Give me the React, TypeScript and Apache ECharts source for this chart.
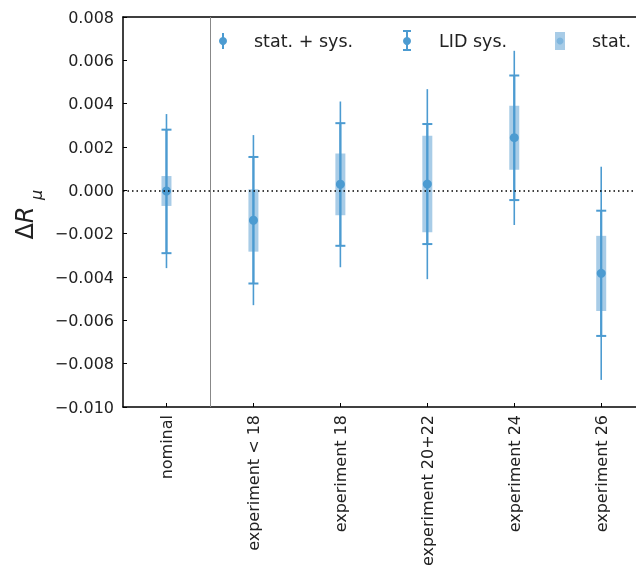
import React, { useEffect, useRef } from "react";
import * as echarts from "echarts";

const categories = ["nominal", "experiment < 18", "experiment 18", "experiment 20+22", "experiment 24", "experiment 26"];
const central = [-0.00003, -0.00138, 0.00028, 0.00029, 0.00243, -0.00383];
const totalLow = [-0.00359, -0.0053, -0.00355, -0.0041, -0.0016, -0.00875];
const totalHigh = [0.00352, 0.00255, 0.0041, 0.00467, 0.00644, 0.00109];
const lidLow = [-0.0029, -0.0043, -0.00256, -0.00248, -0.00045, -0.00672];
const lidHigh = [0.0028, 0.00154, 0.0031, 0.00306, 0.0053, -0.00094];
const statLow = [-0.00072, -0.00283, -0.00115, -0.00194, 0.00095, -0.00557];
const statHigh = [0.00066, 0.00005, 0.0017, 0.00252, 0.0039, -0.0021];
const positions = [0, 1, 2, 3, 4, 5];

const LINE = "#4c9bd1";
const BOX = "#a8cce7";
const FONT = "DejaVu Sans";
const X_MIN = -0.5;
const X_MAX = 5.4;

export default function App() {
  const ref = useRef<HTMLDivElement>(null);
  useEffect(() => {
    if (!ref.current) return;
    const chart = echarts.init(ref.current, null, { renderer: "svg" });

    const statData = positions.map((p, i) => [p, statLow[i], statHigh[i]]);
    const totalData = positions.map((p, i) => [p, totalLow[i], totalHigh[i], central[i]]);
    const lidData = positions.map((p, i) => [p, lidLow[i], lidHigh[i]]);

    const option: any = {
      animation: false,
      grid: { left: 123, top: 17, bottom: 174, right: 0, show: false },
      xAxis: [
        {
          type: "value",
          min: X_MIN,
          max: X_MAX,
          position: "bottom",
          axisLine: { show: true, onZero: false, lineStyle: { color: "#000", width: 1.5 } },
          axisTick: { show: true, inside: true, length: 4, customValues: positions, lineStyle: { color: "#000" } },
          axisLabel: {
            rotate: 90,
            fontSize: 16,
            color: "#222",
            fontFamily: FONT,
            margin: 8,
            customValues: positions,
            formatter: (v: number) => categories[Math.round(v)] ?? "",
          },
          splitLine: { show: false },
        },
        {
          type: "value",
          min: X_MIN,
          max: X_MAX,
          position: "top",
          axisLine: { show: true, onZero: false, lineStyle: { color: "#000", width: 1.5 } },
          axisTick: { show: false },
          axisLabel: { show: false },
          splitLine: { show: false },
        },
      ],
      yAxis: {
        type: "value",
        min: -0.01,
        max: 0.008,
        interval: 0.002,
        axisLine: { show: true, onZero: false, lineStyle: { color: "#000", width: 1.5 } },
        axisTick: { show: true, inside: true, length: 4, lineStyle: { color: "#000" } },
        axisLabel: {
          fontSize: 16,
          color: "#222",
          fontFamily: FONT,
          margin: 9,
          formatter: (v: number) => {
            const s = Math.abs(v).toFixed(3);
            return v < -1e-12 ? "\u2212" + s : s;
          },
        },
        splitLine: { show: false },
      },
      series: [
        {
          name: "stat.",
          type: "custom",
          z: 2,
          data: statData,
          encode: { x: 0, y: [1, 2] },
          markLine: {
            silent: true,
            symbol: "none",
            label: { show: false },
            data: [
              { yAxis: 0, lineStyle: { color: "#000", width: 1.5, type: [1.5, 3] } },
              { xAxis: 0.5, lineStyle: { color: "#888", width: 1, type: "solid" } },
            ],
          },
          renderItem: (params: any, api: any) => {
            const x = api.value(0);
            const lo = api.coord([x, api.value(1)]);
            const hi = api.coord([x, api.value(2)]);
            return {
              type: "rect",
              shape: { x: lo[0] - 5, y: hi[1], width: 10, height: lo[1] - hi[1] },
              style: { fill: BOX },
            };
          },
        },
        {
          name: "stat. + sys.",
          type: "custom",
          z: 3,
          data: totalData,
          encode: { x: 0, y: [1, 2, 3] },
          renderItem: (params: any, api: any) => {
            const x = api.value(0);
            const lo = api.coord([x, api.value(1)]);
            const hi = api.coord([x, api.value(2)]);
            return {
              type: "line",
              shape: { x1: lo[0], y1: lo[1], x2: hi[0], y2: hi[1] },
              style: { stroke: LINE, lineWidth: 1.6 },
            };
          },
        },
        {
          name: "LID sys.",
          type: "custom",
          z: 4,
          data: lidData,
          encode: { x: 0, y: [1, 2] },
          renderItem: (params: any, api: any) => {
            const x = api.value(0);
            const lo = api.coord([x, api.value(1)]);
            const hi = api.coord([x, api.value(2)]);
            const c = api.coord([x, central[params.dataIndex]]);
            return {
              type: "group",
              children: [
                { type: "line", shape: { x1: lo[0], y1: lo[1], x2: hi[0], y2: hi[1] }, style: { stroke: LINE, lineWidth: 2.2 } },
                { type: "line", shape: { x1: lo[0] - 5, y1: lo[1], x2: lo[0] + 5, y2: lo[1] }, style: { stroke: LINE, lineWidth: 2 } },
                { type: "line", shape: { x1: hi[0] - 5, y1: hi[1], x2: hi[0] + 5, y2: hi[1] }, style: { stroke: LINE, lineWidth: 2 } },
                { type: "circle", shape: { cx: c[0], cy: c[1], r: 4.5 }, style: { fill: LINE } },
              ],
            };
          },
        },
      ],
      graphic: [
        {
          type: "text",
          x: 25,
          y: 223,
          rotation: Math.PI / 2,
          style: {
            text: "{d|\u0394}{r|R}",
            align: "center",
            verticalAlign: "middle",
            fill: "#222",
            rich: {
              d: { fontSize: 24, fontFamily: FONT, fill: "#222" },
              r: { fontSize: 24, fontFamily: FONT, fontStyle: "italic", fill: "#222" },
            },
          },
        },
        {
          type: "text",
          x: 36,
          y: 195,
          rotation: Math.PI / 2,
          style: { text: "\u03bc", fontSize: 16, fontStyle: "italic", fontFamily: FONT, fill: "#222", align: "center", verticalAlign: "middle" },
        },
        { type: "line", shape: { x1: 223, y1: 33, x2: 223, y2: 49 }, style: { stroke: LINE, lineWidth: 2 } },
        { type: "circle", shape: { cx: 223, cy: 41, r: 4 }, style: { fill: LINE } },
        { type: "text", x: 254, y: 41, style: { text: "stat. + sys.", fontSize: 17.5, fontFamily: FONT, fill: "#222", verticalAlign: "middle" } },
        { type: "line", shape: { x1: 407, y1: 31, x2: 407, y2: 50 }, style: { stroke: LINE, lineWidth: 2 } },
        { type: "line", shape: { x1: 403, y1: 31, x2: 411, y2: 31 }, style: { stroke: LINE, lineWidth: 2 } },
        { type: "line", shape: { x1: 403, y1: 50, x2: 411, y2: 50 }, style: { stroke: LINE, lineWidth: 2 } },
        { type: "circle", shape: { cx: 407, cy: 41, r: 4 }, style: { fill: LINE } },
        { type: "text", x: 439, y: 41, style: { text: "LID sys.", fontSize: 17.5, fontFamily: FONT, fill: "#222", verticalAlign: "middle" } },
        { type: "rect", shape: { x: 555, y: 32, width: 10, height: 18 }, style: { fill: BOX } },
        { type: "circle", shape: { cx: 560, cy: 41, r: 3.5 }, style: { fill: "#7fb6de" } },
        { type: "text", x: 592, y: 41, style: { text: "stat.", fontSize: 17.5, fontFamily: FONT, fill: "#222", verticalAlign: "middle" } },
      ],
    };
    chart.setOption(option);
    return () => chart.dispose();
  }, []);
  return <div ref={ref} style={{ position: "fixed", left: 0, top: 0, width: 636, height: 581 }} />;
}
